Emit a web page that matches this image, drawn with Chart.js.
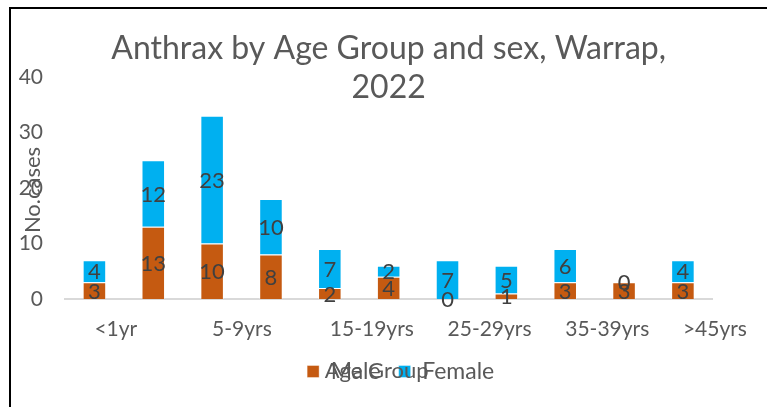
<!DOCTYPE html>
<html>
<head>
<meta charset="utf-8">
<script src="https://cdn.jsdelivr.net/npm/chart.js@4/dist/chart.umd.min.js"></script>
<style>
  body { margin: 0; background: #fff; }
  #wrap { position: relative; width: 767px; height: 407px; overflow: hidden; }
  #frame {
    position: absolute; left: 9px; top: 7px; right: -5px; bottom: -5px;
    border-left: 2px solid #000; border-top: 2px solid #000;
    pointer-events: none;
  }
</style>
</head>
<body>
<div id="wrap">
  <canvas id="chartInformation" width="767" height="407"></canvas>
  <div id="frame"></div>
</div>
<script>
const ageGroups = ["<1yr", "1-4yrs", "5-9yrs", "10-14yrs", "15-19yrs", "20-24yrs",
  "25-29yrs", "30-34yrs", "35-39yrs", "40-44yrs", ">45yrs"];
const maleCases = [3, 13, 10, 8, 2, 4, 0, 1, 3, 3, 3];
const femaleCases = [4, 12, 23, 10, 7, 2, 7, 5, 6, 0, 4];
const titleLines = ["Anthrax by Age Group and sex, Warrap,", "2022"];
const yAxisTitle = "No.cases";
const xAxisTitle = "Age Group";

const FONT = "Lato";
const GREY = "#595959";

// legend in the excel file sits a little right of centre
const legendShift = {
  id: "legendShift",
  afterLayout(chart) {
    chart.legend.left += 12;
    chart.legend.right += 12;
  },
};

// titles, axis titles and the numbers on the bars (they overlap like in excel)
const textOverlay = {
  id: "textOverlay",
  afterDraw(chart) {
    const ctx = chart.ctx;
    const area = chart.chartArea;
    const midX = (area.left + area.right) / 2;
    ctx.save();
    ctx.textAlign = "center";
    ctx.textBaseline = "middle";

    // numbers in the middle of each segment
    ctx.font = "22px " + FONT;
    ctx.fillStyle = "#404040";
    chart.data.datasets.forEach((ds, di) => {
      chart.getDatasetMeta(di).data.forEach((bar, i) => {
        const p = bar.getProps(["x", "y", "base"], true);
        ctx.fillText(ds.data[i], p.x, (p.y + p.base) / 2 + 1);
      });
    });

    // chart title
    ctx.font = "32px " + FONT;
    ctx.fillStyle = GREY;
    ctx.fillText(titleLines[0], midX, 49);
    ctx.fillText(titleLines[1], midX, 88);

    // y axis title
    ctx.font = "22px " + FONT;
    ctx.save();
    ctx.translate(area.left - 32, (area.top + area.bottom) / 2 + 2);
    ctx.rotate(-Math.PI / 2);
    ctx.fillText(yAxisTitle, 0, 0);
    ctx.restore();

    // x axis title, sits on top of the legend
    const lg = chart.legend;
    ctx.fillText(xAxisTitle, midX - 12, lg.top + 29);
    ctx.restore();
  },
};

const chart = new Chart("chartInformation", {
  type: "bar",
  data: {
    labels: ageGroups,
    datasets: [
      {
        label: "Male",
        data: maleCases,
        backgroundColor: "#C55A11",
        borderColor: "rgba(255,255,255,0.4)",
        borderWidth: 1,
        categoryPercentage: 0.4,
        barPercentage: 1,
      },
      {
        label: "Female",
        data: femaleCases,
        backgroundColor: "#00B0F0",
        borderColor: "rgba(255,255,255,0.4)",
        borderWidth: 1,
        categoryPercentage: 0.4,
        barPercentage: 1,
      },
    ],
  },
  options: {
    responsive: false,
    animation: false,
    layout: {
      padding: { top: 77, right: 45, left: 0, bottom: 14 },
    },
    scales: {
      x: {
        stacked: true,
        grid: { display: false, drawTicks: false },
        border: { color: "#D9D9D9", width: 2 },
        afterFit: function (scale) {
          scale.height = 43;
        },
        ticks: {
          autoSkip: false,
          maxRotation: 0,
          align: "start",
          padding: 18,
          color: GREY,
          font: { family: FONT, size: 21 },
          callback: function (value, index) {
            return index % 2 === 0 ? ageGroups[index] : "";
          },
        },
      },
      y: {
        stacked: true,
        min: 0,
        max: 40,
        grid: { display: false, drawTicks: false },
        border: { display: false },
        afterFit: function (scale) {
          scale.width = 65;
        },
        ticks: {
          stepSize: 10,
          padding: 22,
          color: GREY,
          font: { family: FONT, size: 21 },
        },
      },
    },
    plugins: {
      legend: {
        position: "bottom",
        fullSize: false,
        labels: {
          boxWidth: 12,
          boxHeight: 12,
          padding: 18,
          color: GREY,
          font: { family: FONT, size: 23 },
        },
      },
      tooltip: { enabled: false },
    },
  },
  plugins: [legendShift, textOverlay],
});
</script>
</body>
</html>
